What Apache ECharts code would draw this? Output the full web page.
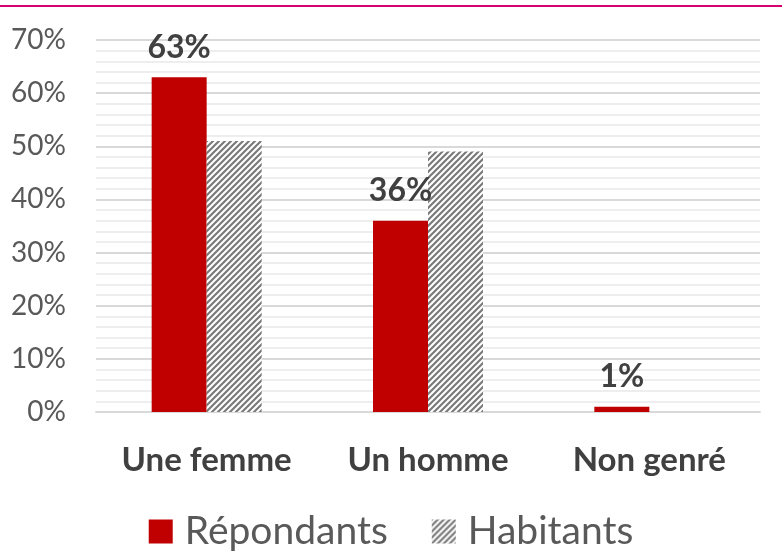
<!DOCTYPE html>
<html>
<head>
<meta charset="utf-8">
<script src="https://cdn.jsdelivr.net/npm/echarts@6/dist/echarts.min.js"></script>
<style>
  html, body { margin: 0; padding: 0; background: #fff; }
  #chart { width: 782px; height: 553px; }
</style>
</head>
<body>
<div id="chart"></div>
<script>
// données
const categories = ["Une femme", "Un homme", "Non genré"]
const repondants = [63, 36, 1]
const habitants = [51, 49, 0]
const yTicks = [0, 10, 20, 30, 40, 50, 60, 70]

// motif hachuré pour "Habitants"
function makeHatch() {
  const c = document.createElement("canvas")
  c.width = 6
  c.height = 6
  const ctx = c.getContext("2d")
  ctx.fillStyle = "#ffffff"
  ctx.fillRect(0, 0, 6, 6)
  ctx.strokeStyle = "#7a7a7a"
  ctx.lineWidth = 2.2
  ctx.beginPath()
  ctx.moveTo(-1, 7); ctx.lineTo(7, -1)
  ctx.moveTo(-4, 4); ctx.lineTo(4, -4)
  ctx.moveTo(2, 10); ctx.lineTo(10, 2)
  ctx.stroke()
  return c
}
const hatch = { image: makeHatch(), repeat: "repeat" }

const font = "Lato, 'Open Sans', sans-serif"
const myChart = echarts.init(document.getElementById("chart"))
const option = {
  animation: false,
  textStyle: { fontFamily: font },
  graphic: [
    {
      type: "line",
      shape: { x1: 0, y1: 6, x2: 782, y2: 6 },
      style: { stroke: "#d6006e", lineWidth: 2 }
    }
  ],
  legend: {
    top: 512,
    left: "center",
    padding: 0,
    icon: "rect",
    itemWidth: 24,
    itemHeight: 24,
    itemGap: 44,
    textStyle: { fontSize: 39, color: "#595959", fontFamily: font, padding: [0, 0, 0, 7] },
    data: ["Répondants", "Habitants"]
  },
  grid: { left: 96, right: 22, top: 40, bottom: 141 },
  xAxis: {
    type: "category",
    data: categories,
    axisTick: { show: false },
    axisLine: { lineStyle: { color: "#d9d9d9", width: 2 } },
    axisLabel: { fontSize: 33, fontWeight: "bold", color: "#404040", margin: 32 }
  },
  yAxis: {
    type: "value",
    min: yTicks[0],
    max: yTicks[yTicks.length - 1],
    interval: 10,
    axisLine: { show: false },
    axisTick: { show: false },
    axisLabel: { fontSize: 28, color: "#595959", margin: 30, formatter: "{value}%" },
    splitLine: { lineStyle: { color: "#d9d9d9", width: 2 } },
    minorTick: { show: false, splitNumber: 5 },
    minorSplitLine: { show: true, lineStyle: { color: "#eeeeee", width: 2 } }
  },
  series: [
    {
      name: "Répondants",
      type: "bar",
      data: repondants,
      barWidth: 55,
      barGap: "0%",
      itemStyle: { color: "#c00000" },
      label: {
        show: true,
        position: "top",
        distance: 14,
        formatter: "{c}%",
        fontSize: 32,
        fontWeight: "bold",
        color: "#404040"
      }
    },
    {
      name: "Habitants",
      type: "bar",
      data: habitants,
      barWidth: 55,
      itemStyle: { color: hatch }
    }
  ]
}
myChart.setOption(option)
</script>
</body>
</html>
